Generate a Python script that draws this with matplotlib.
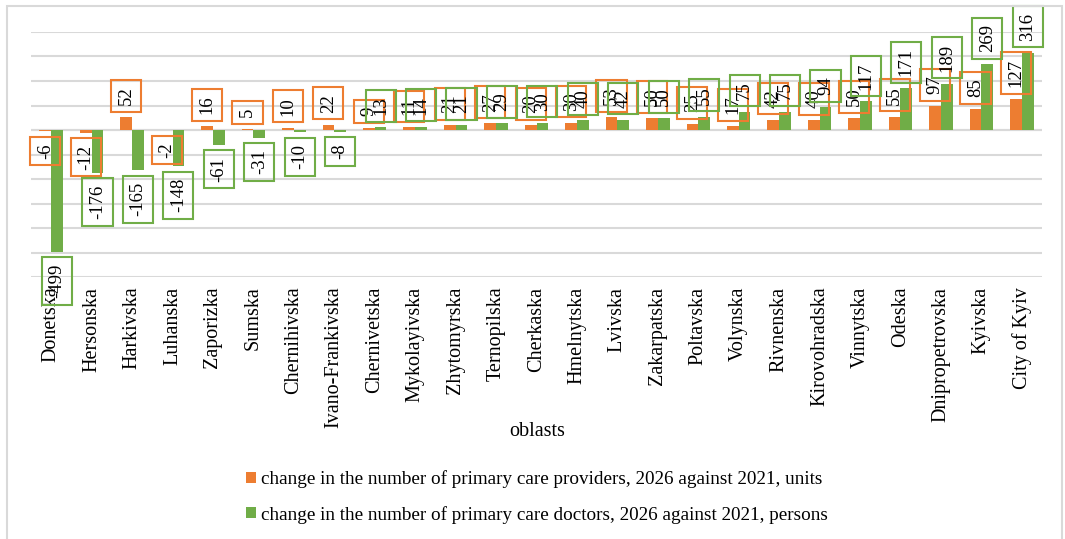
# change in primary care providers and doctors by oblast, 2026 vs 2021

import numpy as np
import matplotlib.pyplot as plt
from matplotlib.patches import Rectangle

oblasts = ['Donetska', 'Hersonska', 'Harkivska', 'Luhanska', 'Zaporizka', 'Sumska',
           'Chernihivska', 'Ivano-Frankivska', 'Chernivetska', 'Mykolayivska',
           'Zhytomyrska', 'Ternopilska', 'Cherkaska', 'Hmelnytska', 'Lvivska',
           'Zakarpatska', 'Poltavska', 'Volynska', 'Rivnenska', 'Kirovohradska',
           'Vinnytska', 'Odeska', 'Dnipropetrovska', 'Kyivska', 'City of Kyiv']
providers = [-6, -12, 52, -2, 16, 5, 10, 22, 9, 11, 21, 27, 20, 30, 53, 50, 25, 17,
             42, 40, 50, 55, 97, 85, 127]
doctors = [-499, -176, -165, -148, -61, -31, -10, -8, 13, 14, 21, 29, 30, 40, 42,
           50, 55, 75, 75, 94, 117, 171, 189, 269, 316]
series_names = ['change in the number of primary care providers, 2026 against 2021, units',
                'change in the number of primary care doctors, 2026 against 2021, persons']

orange = '#ED7D31'
green = '#70AD47'
grid_c = '#D9D9D9'
font = 'Liberation Serif'

W, H = 1065, 539
fig = plt.figure(figsize=(W / 100, H / 100), dpi=100)
ax = fig.add_axes([31 / W, 1 - 277 / H, (1042 - 31) / W, 245 / H])

x = np.arange(len(oblasts))
bw = 0.29
b1 = ax.bar(x - bw / 2, providers, bw, color=orange, label=series_names[0], zorder=2)
b2 = ax.bar(x + bw / 2, doctors, bw, color=green, label=series_names[1], zorder=2)


def add_labels(xs, vals, edge):
    for xi, v in zip(xs, vals):
        off = 8.5 if v >= 0 else -8.5
        ax.annotate(str(v), (xi, v), xytext=(0, off), textcoords='offset points',
                    rotation=90, ha='center', va='bottom' if v >= 0 else 'top',
                    fontsize=13.5, family=font, annotation_clip=False, zorder=3,
                    bbox=dict(boxstyle='square,pad=0.35', fc='none', ec=edge, lw=1.5))


add_labels(x - bw / 2, providers, orange)
add_labels(x + bw / 2, doctors, green)

ax.set_xlim(-0.5, len(oblasts) - 0.5)
ax.set_ylim(-600, 400)
ax.set_yticks(range(-600, 401, 100))
ax.yaxis.grid(True, color=grid_c, lw=1.5, zorder=0)
ax.axhline(0, color=grid_c, lw=1.5, zorder=1)
ax.tick_params(axis='y', length=0, labelleft=False)
ax.set_xticks(x)
ax.set_xticklabels(oblasts, rotation=90, fontsize=14.5, family=font)
ax.tick_params(axis='x', length=0, pad=7)
for s in ax.spines.values():
    s.set_visible(False)

fig.text(0.504, 1 - 432 / H, 'oblasts', ha='center', va='center', fontsize=14.5, family=font)

fig.legend(handles=[b1, b2], loc='center', bbox_to_anchor=(0.504, 1 - 497 / H),
           frameon=False, prop={'family': font, 'size': 13.8}, handlelength=0.55,
           handleheight=0.55, handletextpad=0.25, labelspacing=0.9)

fig.add_artist(Rectangle((7 / W, -0.05), (1062 - 7) / W, 1.05 - 6 / H,
                         transform=fig.transFigure, fill=False, ec=grid_c, lw=1.5))

fig.savefig('out.png', dpi=100)
